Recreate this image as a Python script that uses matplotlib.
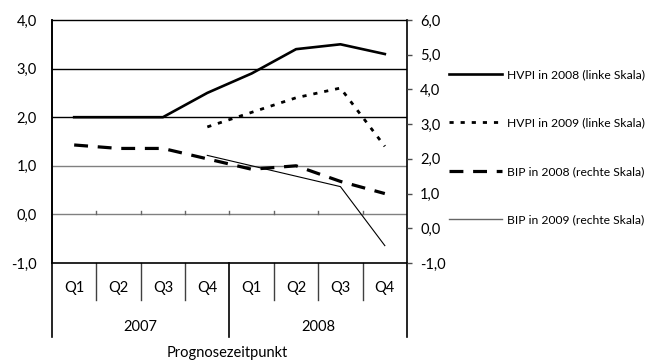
import numpy as np
import matplotlib
matplotlib.use("Agg")
import matplotlib.pyplot as plt
from matplotlib.ticker import FuncFormatter

plt.rcParams['font.family'] = ['Lato', 'DejaVu Sans']
plt.rcParams['lines.scale_dashes'] = False

# Daten
quartale = ['Q1', 'Q2', 'Q3', 'Q4', 'Q1', 'Q2', 'Q3', 'Q4']
jahre = ['2007', '2008']
hvpi_2008 = [2.0, 2.0, 2.0, 2.5, 2.9, 3.4, 3.5, 3.3]
hvpi_2009 = [np.nan, np.nan, np.nan, 1.8, 2.1, 2.4, 2.6, 1.4]
bip_2008 = [2.4, 2.3, 2.3, 2.0, 1.7, 1.8, 1.35, 1.0]
bip_2009 = [np.nan, np.nan, np.nan, 2.1, 1.8, 1.5, 1.2, -0.5]
labels = ['HVPI in 2008 (linke Skala)', 'HVPI in 2009 (linke Skala)',
          'BIP in 2008 (rechte Skala)', 'BIP in 2009 (rechte Skala)']

x = np.arange(len(quartale))
komma = FuncFormatter(lambda v, p: f"{v:.1f}".replace('.', ','))

fig = plt.figure(figsize=(6.53, 3.63), dpi=100)
ax = fig.add_axes([0.0796, 0.2755, 0.5437, 0.6694])
ax2 = ax.twinx()

ax.set_xlim(-0.5, 7.5)
ax.set_ylim(-1, 4)
ax2.set_ylim(-1, 6)

# Gitterlinien
for v, c in [(3, 'black'), (2, 'black'), (1, '0.5'), (0, '0.5')]:
    ax.axhline(v, color=c, lw=1.0, zorder=1)
# kleine Striche an der Nulllinie
for b in x[:-1] + 0.5:
    ax.plot([b, b], [0, 0.07], color='0.4', lw=1.0, zorder=1)

l1, = ax.plot(x, hvpi_2008, color='black', lw=1.9, zorder=3)
l2, = ax.plot(x, hvpi_2009, color='black', lw=2.0, zorder=3)
l2.set_dashes((3, 5))
l3, = ax2.plot(x, bip_2008, color='black', lw=2.3, zorder=3)
l3.set_dashes((10, 7))
l4, = ax2.plot(x, bip_2009, color='black', lw=0.8, zorder=3)

# Achsen
for s in ['left', 'right', 'top', 'bottom']:
    ax.spines[s].set_visible(False)
    ax2.spines[s].set_visible(False)
ax.spines['top'].set_visible(True)
ax.spines['top'].set_linewidth(1.0)
ax.spines['bottom'].set_visible(True)
ax.spines['bottom'].set_linewidth(1.2)
ax.spines['left'].set_visible(True)
ax.spines['left'].set_linewidth(1.2)

ax.set_yticks(np.arange(-1, 5, 1))
ax.yaxis.set_major_formatter(komma)
ax.tick_params(axis='y', length=0, pad=11, labelsize=10.5)
ax2.set_yticks(np.arange(-1, 7, 1))
ax2.yaxis.set_major_formatter(komma)
ax2.tick_params(axis='y', length=3.5, width=1.0, pad=6, labelsize=10.5, color='0.3')
ax.set_xticks([])

trans = ax.get_xaxis_transform()
# Trennlinien der Kategorien
for b in x[:-1] + 0.5:
    if b == 3.5:
        continue
    ax.plot([b, b], [0, -0.152], color='0.25', lw=1.0, transform=trans, clip_on=False)
for b in [-0.5, 3.5, 7.5]:
    ax.plot([b, b], [1, -0.305] if b != 3.5 else [0, -0.305], color='black', lw=1.2,
            transform=trans, clip_on=False)
for xi, q in zip(x, quartale):
    ax.text(xi, -0.103, q, transform=trans, ha='center', va='center', fontsize=10.5)
for i, j in enumerate(jahre):
    ax.text(1.5 + 4 * i, -0.262, j, transform=trans, ha='center', va='center', fontsize=10.5)
ax.text(3.45, -0.372, 'Prognosezeitpunkt', transform=trans, ha='center', va='center', fontsize=10.5)

# Legende
l4_leg = plt.Line2D([], [], color='0.4', lw=1.0)
leg = fig.legend([l1, l2, l3, l4_leg], labels, loc='upper left',
                 bbox_to_anchor=(0.688, 0.81), frameon=False, fontsize=8.7,
                 handlelength=4.4, handletextpad=0.4, labelspacing=3.1,
                 borderaxespad=0, borderpad=0)

fig.savefig('out.png', dpi=100)
